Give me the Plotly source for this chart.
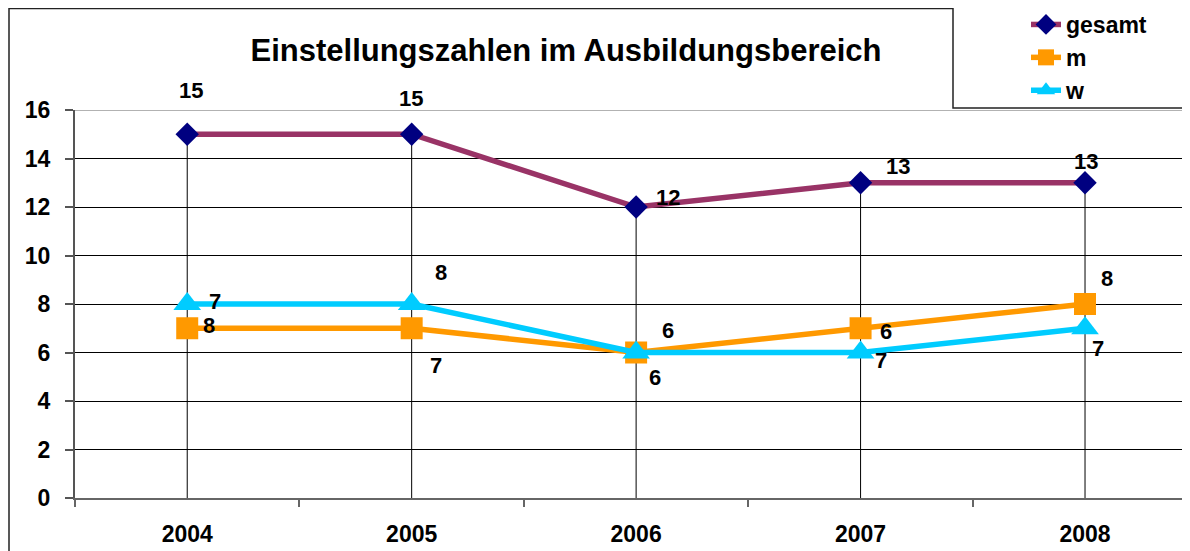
import plotly.graph_objects as go

# ---- data ----
years = ["2004", "2005", "2006", "2007", "2008"]
gesamt = [15, 15, 12, 13, 13]
m_vals = [7, 7, 6, 7, 8]
w_vals = [8, 8, 6, 6, 7]
y_ticks = [0, 2, 4, 6, 8, 10, 12, 14, 16]

# ---- label offsets (pixels, screen: x right, y down) ----
gesamt_off = [(4, -44), (-1, -36), (32, -10), (37, -16), (1, -21)]
m_off = [(28, -27), (24, 37), (32, -22), (20, 32), (22, -26)]
w_off = [(22, 21), (29, -32), (19, 25), (25, -21), (13, 20)]

FONT = "Liberation Sans, Arial, sans-serif"
OFF = 8  # page body margin
W, H = 1190 - OFF, 551 - OFF
ML, MR, MT, MB = 75 - OFF, 0, 110 - OFF, 53
PW, PH = W - ML - MR, H - MT - MB


def px2paper_x(px):  # px in reference-image pixels
    return (px - OFF - ML) / PW


def px2paper_y(py):
    return (H - MB - (py - OFF)) / PH


fig = go.Figure()

# drop lines from highest point to axis
drop_x, drop_y = [], []
for i, yr in enumerate(years):
    top = max(gesamt[i], m_vals[i], w_vals[i])
    drop_x += [yr, yr, None]
    drop_y += [top, 0, None]
fig.add_trace(go.Scatter(x=drop_x, y=drop_y, mode="lines",
                         line=dict(color="black", width=1),
                         showlegend=False, hoverinfo="skip"))

fig.add_trace(go.Scatter(x=years, y=gesamt, name="gesamt", mode="lines+markers",
                         line=dict(color="#993366", width=5.5),
                         marker=dict(symbol="diamond", size=18, color="#000080")))
fig.add_trace(go.Scatter(x=years, y=m_vals, name="m", mode="lines+markers",
                         line=dict(color="#FF9900", width=5.5),
                         marker=dict(symbol="square", size=22, color="#FF9900")))
fig.add_trace(go.Scatter(x=years, y=w_vals, name="w", mode="lines+markers",
                         line=dict(color="#00CCFF", width=5.5),
                         marker=dict(symbol="triangle-up", size=24, color="#00CCFF")))

annotations = []
for vals, offs in [(gesamt, gesamt_off), (m_vals, m_off), (w_vals, w_off)]:
    for i, (v, (dx, dy)) in enumerate(zip(vals, offs)):
        annotations.append(dict(x=i, y=v, xref="x", yref="y", text=str(v), showarrow=False,
                                xshift=dx, yshift=-dy,
                                font=dict(family=FONT, size=22, color="black")))
# make label text bold through markup
for a in annotations:
    a["text"] = "<b>" + a["text"] + "</b>"

shapes = [
    # outer chart border
    dict(type="rect", xref="paper", yref="paper",
         x0=px2paper_x(9), x1=px2paper_x(1250), y0=px2paper_y(600), y1=px2paper_y(8.5),
         line=dict(color="#222222", width=1.5), fillcolor="rgba(0,0,0,0)", layer="below"),
    # top plot-area line
    dict(type="line", xref="paper", yref="y", x0=0, x1=1, y0=16, y1=16,
         line=dict(color="#999999", width=1.5), layer="above"),
    # legend box
    dict(type="rect", xref="paper", yref="paper",
         x0=px2paper_x(953), x1=px2paper_x(1230), y0=px2paper_y(108), y1=px2paper_y(-10),
         line=dict(color="#222222", width=1.5), fillcolor="white", layer="above"),
]

fig.update_layout(
    width=W, height=H,
    margin=dict(l=ML, r=MR, t=MT, b=MB, autoexpand=False),
    paper_bgcolor="white", plot_bgcolor="white",
    title=dict(text="<b>Einstellungszahlen im Ausbildungsbereich</b>",
               x=(566 - OFF) / W, xanchor="center", xref="container",
               y=1 - (50 - OFF) / H, yanchor="middle", yref="container",
               font=dict(family=FONT, size=31, color="black")),
    xaxis=dict(type="category", range=[-0.5, (1190 - 187) / 224.5],
               showgrid=False, showline=True, linecolor="#666666", linewidth=2,
               ticks="outside", ticklen=7, tickcolor="#666666", tickwidth=1.5,
               tickson="boundaries", ticklabelstandoff=14,
               tickfont=dict(family=FONT, size=23, color="black", weight=700),
               zeroline=False, fixedrange=True),
    yaxis=dict(range=[0, 16], tickvals=y_ticks, showgrid=True, gridcolor="black", gridwidth=1,
               showline=True, linecolor="#555555", linewidth=2,
               ticks="outside", ticklen=8, tickcolor="#555555", tickwidth=1.5,
               ticklabelstandoff=10,
               tickfont=dict(family=FONT, size=23, color="black", weight=700),
               zeroline=False),
    legend=dict(x=px2paper_x(1026), xanchor="left",
                y=px2paper_y(3), yanchor="top",
                bgcolor="rgba(0,0,0,0)", borderwidth=0,
                tracegroupgap=0, itemwidth=30,
                font=dict(family=FONT, size=23, color="black", weight=700)),
    annotations=annotations,
    shapes=shapes,
    showlegend=True,
)

fig.write_html("out.html")
